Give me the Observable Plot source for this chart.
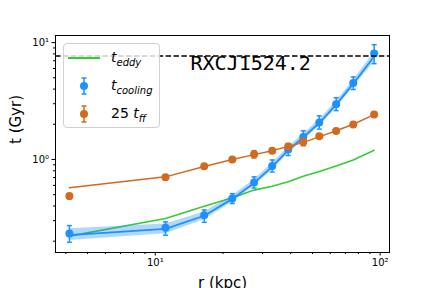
<!DOCTYPE html>
<html><head><meta charset="utf-8">
<script src="https://cdn.jsdelivr.net/npm/d3@7"></script>
<script src="https://cdn.jsdelivr.net/npm/@observablehq/plot@0.6"></script>
<style>
body{margin:0;background:white;}
#wrap{position:relative;width:432px;height:288px;overflow:hidden;font-family:"DejaVu Sans",sans-serif;}
.legend{position:absolute;left:63px;top:43px;width:97px;height:85px;border:1px solid #d0d0d0;border-radius:4px;background:rgba(255,255,255,0.8);box-sizing:border-box;}
.row{position:absolute;left:0;height:22px;width:97px;}
.row svg{position:absolute;left:3px;top:0;}
.row .lab{position:absolute;left:47px;top:1px;font-size:14px;line-height:18px;white-space:nowrap;color:#000;}
.lab i{font-style:italic;}
.lab sub{font-size:10px;font-style:italic;vertical-align:-4px;line-height:0;}
</style></head>
<body><div id="wrap"></div>
<script>
// radius (kpc)
const r = [4.15, 11.1, 16.5, 22.0, 27.5, 33.1, 39.0, 45.5, 53.6, 63.7, 75.9, 94.0];
// cooling time points and error bars (Gyr)
const tCool   = [0.233, 0.26, 0.334, 0.464, 0.636, 0.88, 1.22, 1.56, 2.07, 2.97, 4.51, 8.05];
const tCoolLo = [0.196, 0.225, 0.29, 0.42, 0.57, 0.78, 1.08, 1.38, 1.82, 2.62, 3.97, 6.6];
const tCoolHi = [0.272, 0.292, 0.37, 0.51, 0.71, 0.99, 1.37, 1.76, 2.36, 3.38, 5.08, 9.6];
// cooling time profile line and band
const coolLine   = [0.225, 0.255, 0.33, 0.46, 0.63, 0.87, 1.2, 1.55, 2.05, 2.95, 4.45, 7.6];
const coolBandLo = [0.203, 0.232, 0.305, 0.43, 0.59, 0.81, 1.12, 1.45, 1.92, 2.75, 4.15, 6.8];
const coolBandHi = [0.255, 0.28, 0.355, 0.49, 0.67, 0.93, 1.28, 1.65, 2.18, 3.15, 4.75, 8.3];
// 25 t_ff points, error bars, line
const tff   = [0.486, 0.706, 0.877, 1.0, 1.11, 1.19, 1.29, 1.41, 1.58, 1.75, 1.99, 2.42];
const tffLo = [0.46, 0.68, 0.85, 0.97, 1.03, 1.15, 1.23, 1.31, 1.52, 1.70, 1.94, 2.36];
const tffHi = [0.51, 0.73, 0.91, 1.04, 1.19, 1.24, 1.35, 1.51, 1.65, 1.81, 2.05, 2.49];
const tffLine = [0.572, 0.71, 0.87, 1.0, 1.1, 1.19, 1.29, 1.4, 1.56, 1.76, 2.0, 2.42];
// eddy time line
const tEddy = [0.221, 0.313, 0.398, 0.47, 0.547, 0.59, 0.644, 0.72, 0.79, 0.88, 0.99, 1.2];
// horizontal reference (Gyr)
const tRef = [7.68];
// ticks
const xMajor = [10, 100];
const xMajorLabels = ["10¹", "10²"];
const xMinor = [4,5,6,7,8,9,20,30,40,50,60,70,80,90];
const yMajor = [1, 10];
const yMajorLabels = ["10⁰", "10¹"];
const yMinor = [0.2,0.3,0.4,0.5,0.6,0.7,0.8,0.9,2,3,4,5,6,7,8,9];
const title = "RXCJ1524.2";
const xLabel = "r (kpc)";
const yLabel = "t (Gyr)";

const BLUE = "#1E90FF", ORANGE = "#D2691E", GREEN = "#32CD32";

const rows = r.map((rv, i) => ({
  r: rv, cool: tCool[i], coolLo: tCoolLo[i], coolHi: tCoolHi[i],
  line: coolLine[i], bLo: coolBandLo[i], bHi: coolBandHi[i],
  ff: tff[i], ffLo: tffLo[i], ffHi: tffHi[i], ffLine: tffLine[i], eddy: tEddy[i]
}));

const cap = {draw(ctx, size){ const w = Math.sqrt(size/Math.PI); ctx.moveTo(-w,0); ctx.lineTo(w,0); }};

const chart = Plot.plot({
  width: 432, height: 288,
  marginLeft: 55, marginRight: 43, marginTop: 35, marginBottom: 36,
  x: {type: "log", domain: [3.6, 110]},
  y: {type: "log", domain: [0.16, 11.5]},
  style: {fontFamily: "DejaVu Sans", fontSize: "10px", background: "white", color: "black"},
  marks: [
    Plot.axisX({ticks: xMajor, tickFormat: (d, i) => xMajorLabels[xMajor.indexOf(d)], tickSize: 3.5, tickPadding: 3, label: null, fontSize: 10}),
    Plot.axisX({ticks: xMinor, tickSize: 2, tickFormat: () => "", label: null}),
    Plot.axisY({ticks: yMajor, tickFormat: d => yMajorLabels[yMajor.indexOf(d)], tickSize: 3.5, tickPadding: 3, label: null, fontSize: 10}),
    Plot.axisY({ticks: yMinor, tickSize: 2, tickFormat: () => "", label: null}),
    Plot.lineY(rows, {x: "r", y: "eddy", stroke: GREEN, strokeWidth: 1.6}),
    Plot.areaY(rows, {x: "r", y1: "bLo", y2: "bHi", fill: BLUE, fillOpacity: 0.35}),
    Plot.lineY(rows, {x: "r", y: "line", stroke: BLUE, strokeWidth: 1.8}),
    Plot.ruleX(rows, {x: "r", y1: "coolLo", y2: "coolHi", stroke: BLUE, strokeWidth: 1.5}),
    Plot.dot(rows, {x: "r", y: "coolLo", symbol: cap, r: 2.5, stroke: BLUE, strokeWidth: 1.5, fill: "none"}),
    Plot.dot(rows, {x: "r", y: "coolHi", symbol: cap, r: 2.5, stroke: BLUE, strokeWidth: 1.5, fill: "none"}),
    Plot.dot(rows, {x: "r", y: "cool", r: 4, fill: BLUE, stroke: "none"}),
    Plot.lineY(rows, {x: "r", y: "ffLine", stroke: ORANGE, strokeWidth: 1.5}),
    Plot.ruleX(rows, {x: "r", y1: "ffLo", y2: "ffHi", stroke: ORANGE, strokeWidth: 1.5}),
    Plot.dot(rows, {x: "r", y: "ffLo", symbol: cap, r: 2.5, stroke: ORANGE, strokeWidth: 1.5, fill: "none"}),
    Plot.dot(rows, {x: "r", y: "ffHi", symbol: cap, r: 2.5, stroke: ORANGE, strokeWidth: 1.5, fill: "none"}),
    Plot.dot(rows, {x: "r", y: "ff", r: 4, fill: ORANGE, stroke: "none"}),
    Plot.ruleY(tRef, {stroke: "black", strokeWidth: 1.5, strokeDasharray: "5.5,2.4"}),
    Plot.text([title], {frameAnchor: "top-left", dx: 135, dy: 20, text: d => d, textAnchor: "start", fontSize: 20, fontFamily: "DejaVu Sans Mono", fill: "black"}),
    Plot.text([xLabel], {frameAnchor: "bottom", dy: 35, text: d => d, fontSize: 15, fill: "black"}),
    Plot.text([yLabel], {frameAnchor: "left", dx: -39, rotate: -90, text: d => d, fontSize: 15, fill: "black"}),
    Plot.frame({stroke: "black", strokeWidth: 1})
  ]
});

const wrap = document.getElementById("wrap");
wrap.appendChild(chart);

const legendItems = [
  {kind: "line", color: GREEN, html: "<i>t</i><sub>eddy</sub>", top: 3},
  {kind: "err", color: BLUE, html: "<i>t</i><sub>cooling</sub>", top: 31},
  {kind: "err", color: ORANGE, html: "25 <i>t</i><sub>ff</sub>", top: 59}
];
const leg = document.createElement("div");
leg.className = "legend";
for (const it of legendItems) {
  const row = document.createElement("div");
  row.className = "row";
  row.style.top = it.top + "px";
  let svg;
  if (it.kind === "line") {
    svg = `<svg width="34" height="22"><line x1="1" x2="33" y1="11" y2="11" stroke="${it.color}" stroke-width="2"/></svg>`;
  } else {
    svg = `<svg width="34" height="22"><line x1="17" x2="17" y1="3" y2="19" stroke="${it.color}" stroke-width="1.5"/><line x1="14.5" x2="19.5" y1="3" y2="3" stroke="${it.color}" stroke-width="1.5"/><line x1="14.5" x2="19.5" y1="19" y2="19" stroke="${it.color}" stroke-width="1.5"/><circle cx="17" cy="11" r="4" fill="${it.color}"/></svg>`;
  }
  row.innerHTML = svg + `<span class="lab">${it.html}</span>`;
  leg.appendChild(row);
}
wrap.appendChild(leg);
</script></body></html>
